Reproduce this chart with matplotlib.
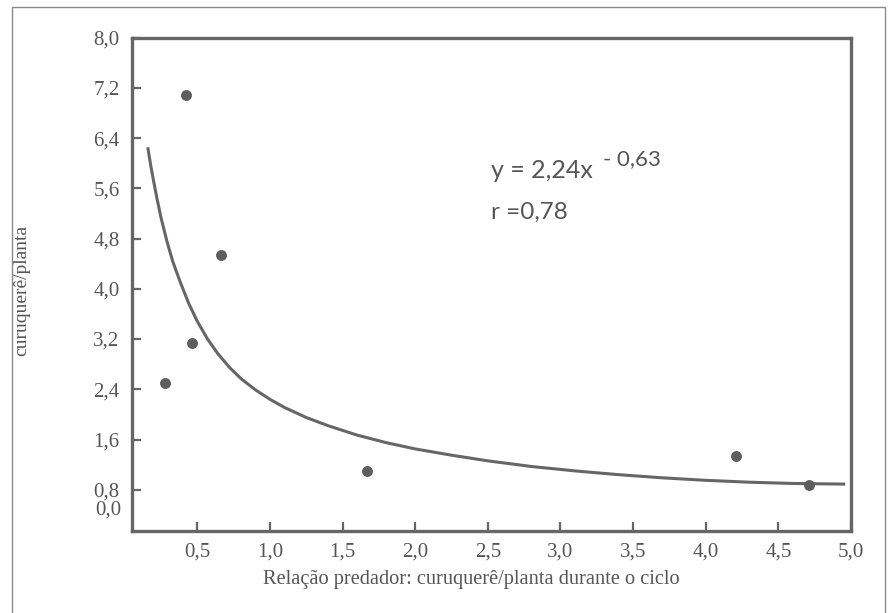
import matplotlib
matplotlib.use("Agg")
import matplotlib.pyplot as plt
from matplotlib.patches import Rectangle

# pontos observados
obs_x = [0.42, 0.66, 0.46, 0.28, 1.67, 4.21, 4.71]
obs_y = [7.09, 4.54, 3.14, 2.50, 1.10, 1.34, 0.88]

# curva ajustada y = 2,24x^-0,63 (tracado)
fit_x = [0.16, 0.18, 0.20, 0.22, 0.25, 0.29, 0.33, 0.38, 0.44, 0.50,
         0.57, 0.64, 0.72, 0.80, 0.90, 1.00, 1.10, 1.25, 1.40, 1.60,
         1.80, 2.00, 2.25, 2.50, 2.80, 3.10, 3.40, 3.70, 4.00, 4.30,
         4.60, 4.95]
fit_y = [6.23, 5.95, 5.70, 5.46, 5.13, 4.76, 4.44, 4.12, 3.77, 3.48,
         3.20, 2.97, 2.75, 2.57, 2.39, 2.24, 2.11, 1.95, 1.82, 1.67,
         1.55, 1.45, 1.35, 1.26, 1.17, 1.10, 1.04, 0.99, 0.95, 0.92,
         0.90, 0.89]

x_ticks = [0.5, 1.0, 1.5, 2.0, 2.5, 3.0, 3.5, 4.0, 4.5, 5.0]
x_labels = ["0,5", "1,0", "1,5", "2,0", "2,5", "3,0", "3,5", "4,0", "4,5", "5,0"]
y_ticks = [0.8, 1.6, 2.4, 3.2, 4.0, 4.8, 5.6, 6.4, 7.2, 8.0]
y_labels = ["0,8", "1,6", "2,4", "3,2", "4,0", "4,8", "5,6", "6,4", "7,2", "8,0"]

ink = "#666666"
txt = "#555555"
plt.rcParams['font.family'] = ['Liberation Serif', 'DejaVu Serif']

fig = plt.figure(figsize=(8.94, 6.13), dpi=100, facecolor="white")
ax = fig.add_axes([132 / 894, 82 / 613, 719 / 894, 493.4 / 613])

ax.plot(fit_x, fit_y, color=ink, lw=2.2, solid_joinstyle="round")
ax.scatter(obs_x, obs_y, s=62, color="#5e5e5e", zorder=3, linewidths=0)

ax.set_xlim(0.05, 5.0)
ax.set_ylim(0.143, 8.0)
ax.set_xticks(x_ticks)
ax.set_xticklabels(x_labels)
ax.set_yticks(y_ticks)
ax.set_yticklabels(y_labels)
ax.tick_params(axis="both", direction="in", length=6.5, width=1.6, color=ink,
               labelcolor=txt, labelsize=15)
ax.tick_params(axis="x", pad=8)
ax.tick_params(axis="y", pad=9)
for sp in ax.spines.values():
    sp.set_color(ink)
    sp.set_linewidth(2.4)

# rotulo 0,0 no canto
ax.annotate("0,0", xy=(0, 0), xycoords="axes fraction", xytext=(-11, 21),
            textcoords="offset pixels", ha="right", va="center",
            fontsize=15, color=txt)

ax.set_xlabel("Relação predador: curuquerê/planta durante o ciclo",
              fontsize=14.7, color=txt, va="center")
ax.xaxis.set_label_coords(0.4715, -0.099)
ax.set_ylabel("curuquerê/planta", fontsize=14, color=txt, va="center")
ax.yaxis.set_label_coords(-0.153, 0.488)

# equacao da curva
eq_font = ['Lato', 'DejaVu Sans']
ax.annotate("y = 2,24x", xy=(0, 1), xycoords="axes fraction",
            xytext=(491 - 132, -(171 - 37.6)), textcoords="offset pixels",
            ha="left", va="center", fontsize=18, color=txt, family=eq_font)
ax.annotate("- 0,63", xy=(0, 1), xycoords="axes fraction",
            xytext=(603 - 132, -(159 - 37.6)), textcoords="offset pixels",
            ha="left", va="center", fontsize=16, color=txt, family=eq_font)
ax.annotate("r =0,78", xy=(0, 1), xycoords="axes fraction",
            xytext=(491 - 132, -(212 - 37.6)), textcoords="offset pixels",
            ha="left", va="center", fontsize=17.5, color=txt, family=eq_font)

# moldura externa
fig.add_artist(Rectangle((12 / 894, -0.02), 873 / 894, 1.02 - 7 / 613,
                         transform=fig.transFigure, fill=False,
                         lw=1.0, ec="#8a8a8a"))

plt.savefig("out.png", dpi=100, facecolor="white")
